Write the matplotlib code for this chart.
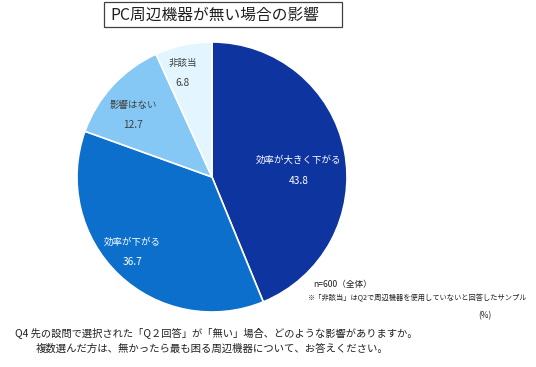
import numpy as np
import matplotlib
matplotlib.use("Agg")
import matplotlib.pyplot as plt
from matplotlib.patches import Rectangle

plt.rcParams['font.family'] = ['Noto Sans CJK JP', 'DejaVu Sans']

# data
categories = ['効率が大きく下がる', '効率が下がる', '影響はない', '非該当']
values = [43.8, 36.7, 12.7, 6.8]
colors = ['#0E34A0', '#0B6FCB', '#85C8F5', '#E3F5FE']
label_colors = ['white', 'white', '#404040', '#404040']
# label placement: fraction of radius, angle shift from wedge middle (deg)
label_r = [0.645, 0.81, 0.74, 0.80]
label_shift = [-7, -2.8, 4.6, 3.4]

W, H = 536, 367
fig = plt.figure(figsize=(W / 100, H / 100), dpi=100)
ax = fig.add_axes([0, 0, 1, 1])

cx, cy, r = 212, H - 177, 135
wedges, _ = ax.pie(values, colors=colors, startangle=90, counterclock=False,
                   center=(cx, cy), radius=r, frame=True,
                   wedgeprops=dict(edgecolor='white', linewidth=1.2))
ax.set_xlim(0, W)
ax.set_ylim(0, H)
ax.axis('off')

for w, cat, v, col, rf, sh in zip(wedges, categories, values, label_colors, label_r, label_shift):
    mid = np.deg2rad((w.theta1 + w.theta2) / 2 + sh)
    x = cx + rf * r * np.cos(mid)
    y = cy + rf * r * np.sin(mid)
    ax.text(x, y + 10, cat, ha='center', va='center', fontsize=6.8, color=col)
    ax.text(x, y - 10, f'{v:.1f}', ha='center', va='center', fontsize=7.3, color=col)

# title box
ax.add_patch(Rectangle((104, H - 27), 238, 25, fill=False, edgecolor='#404040', linewidth=0.9))
ax.text(110, H - 15, 'PC周辺機器が無い場合の影響', ha='left', va='center', fontsize=11.3, color='#202020')

# notes
ax.text(313, H - 285, 'n=600（全体）', ha='left', va='center', fontsize=6.2, color='#202020')
ax.text(308, H - 298, '※「非該当」はQ2で周辺機器を使用していないと回答したサンプル',
        ha='left', va='center', fontsize=5.2, color='#202020')
ax.text(478, H - 316, '(%)', ha='left', va='center', fontsize=6, color='#202020')

ax.text(15, H - 333, 'Q4 先の設問で選択された「Q２回答」が「無い」場合、どのような影響がありますか。',
        ha='left', va='center', fontsize=7.4, color='#202020')
ax.text(36, H - 349, '複数選んだ方は、無かったら最も困る周辺機器について、お答えください。',
        ha='left', va='center', fontsize=7.5, color='#202020')

fig.savefig('out.png', dpi=100)
